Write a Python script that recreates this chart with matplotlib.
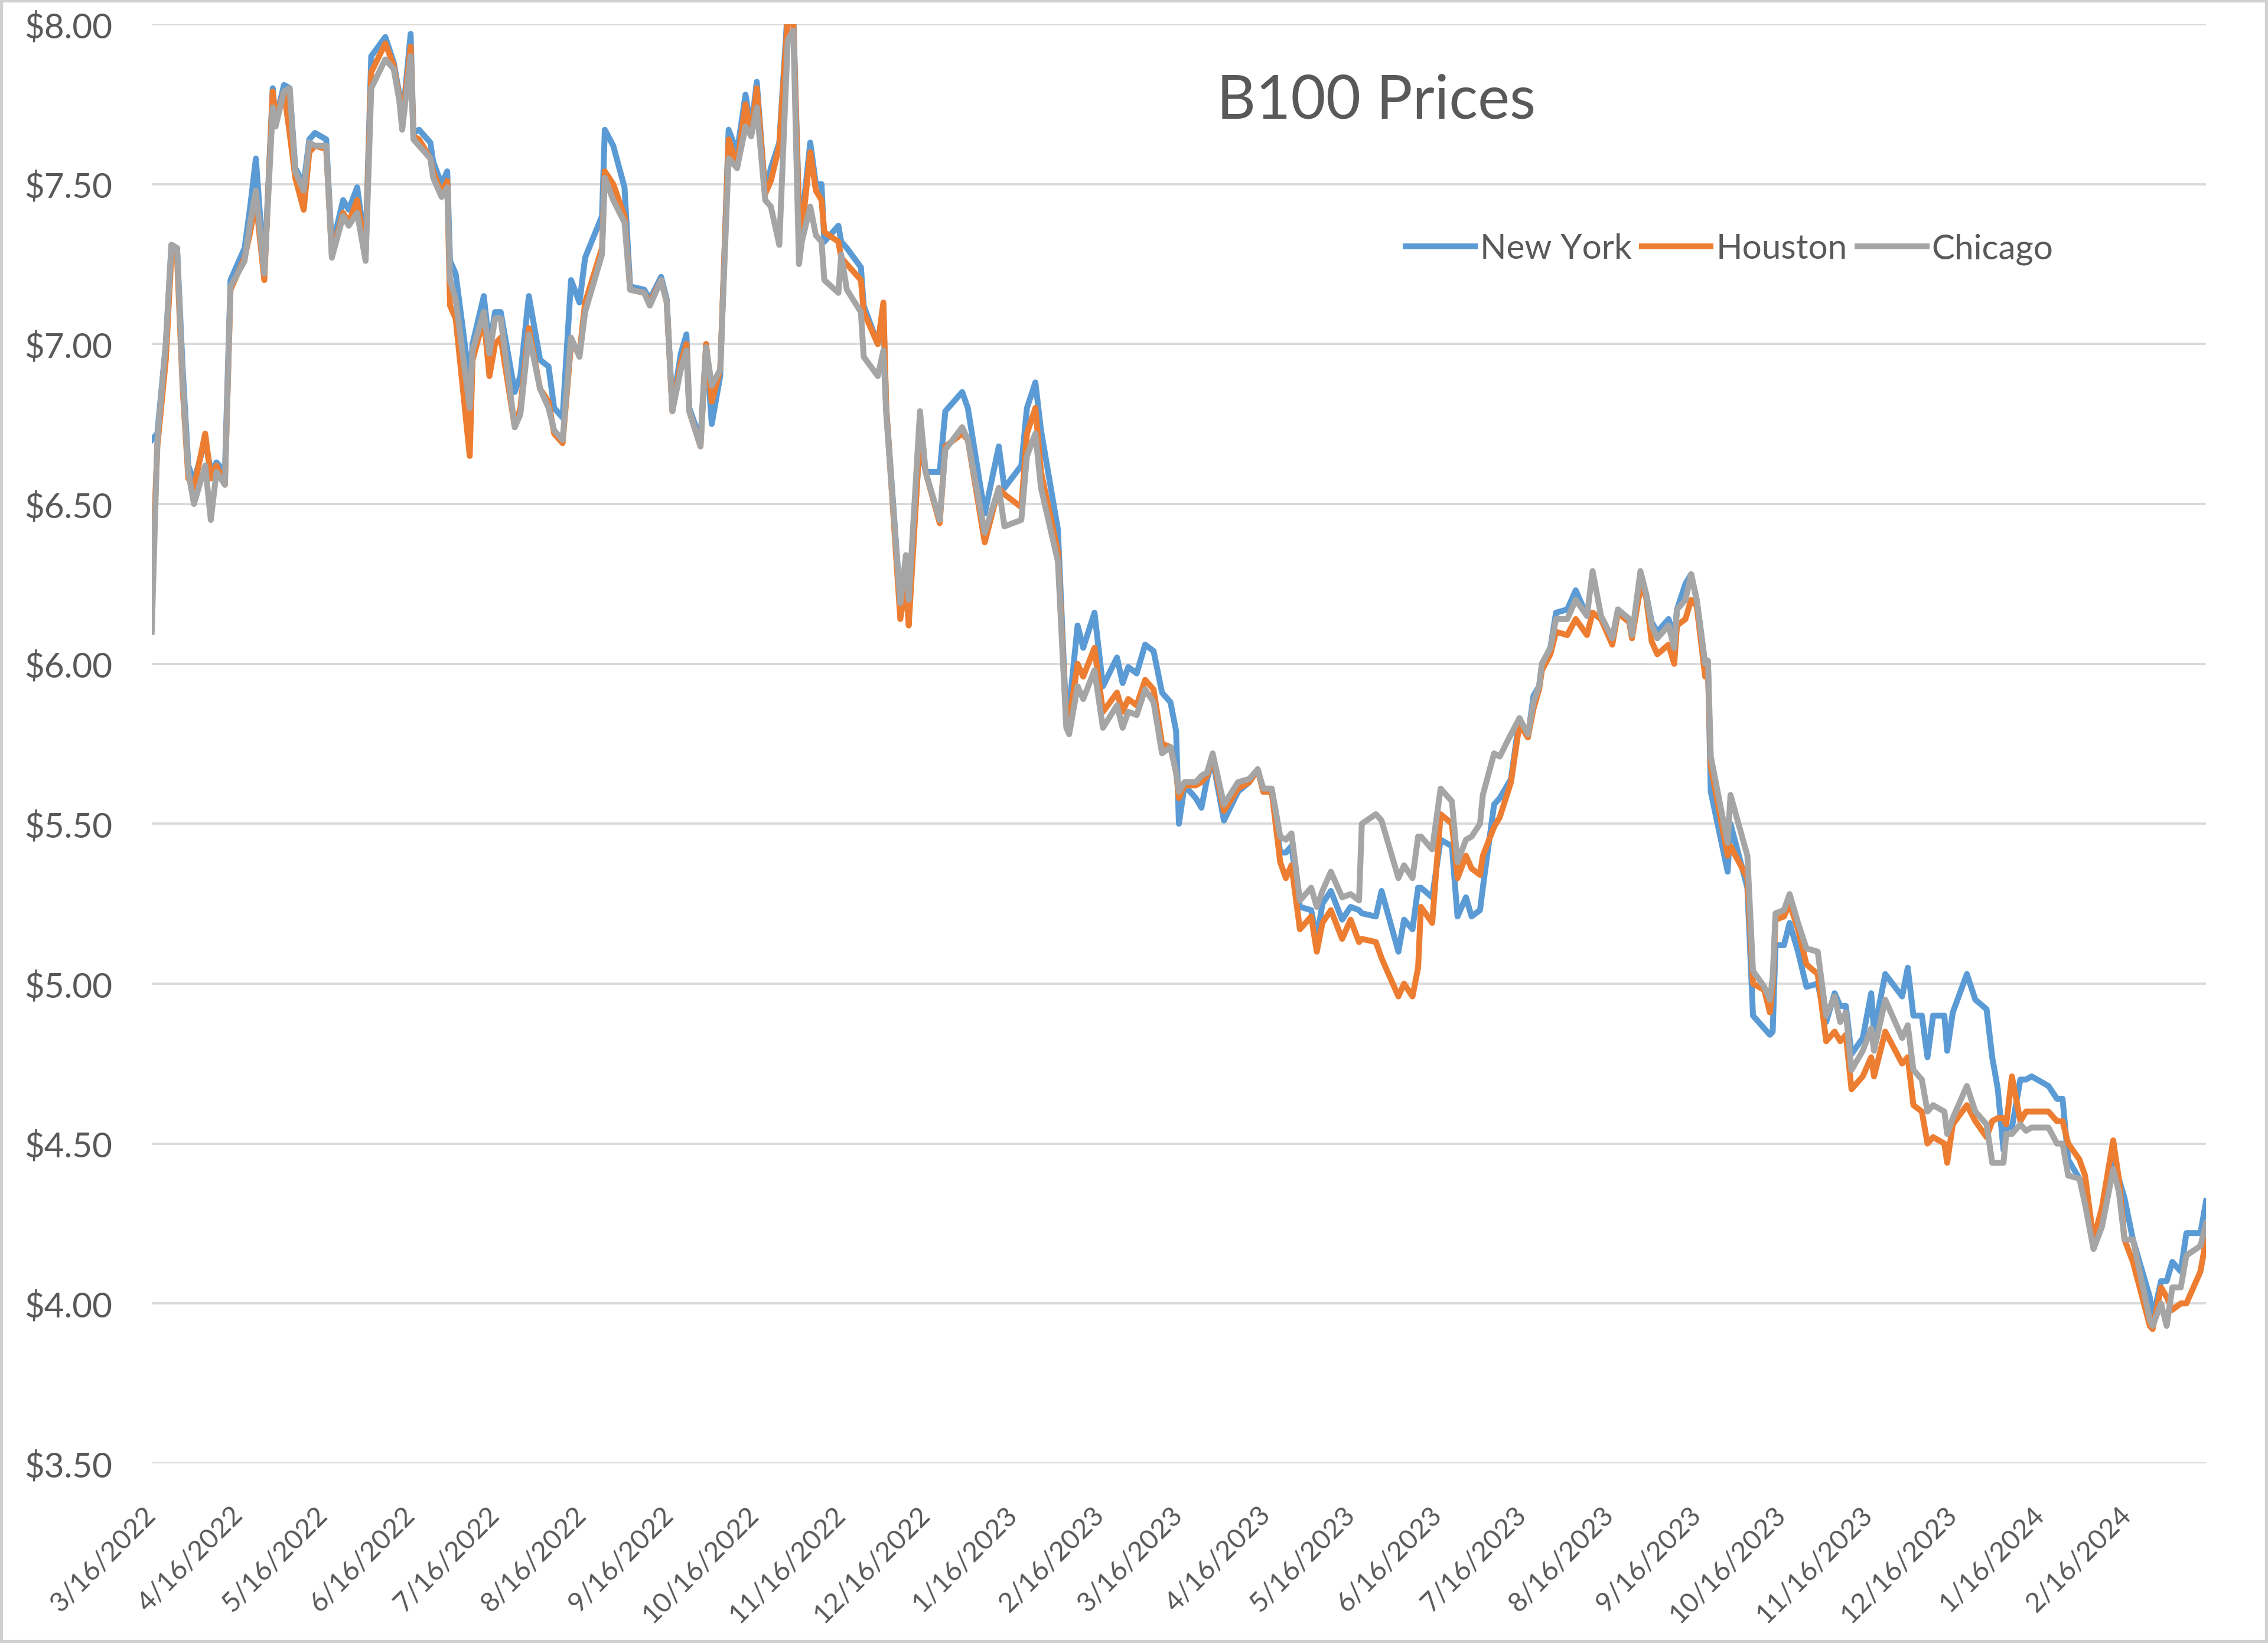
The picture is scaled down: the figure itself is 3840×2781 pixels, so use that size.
import pandas as pd
import matplotlib.pyplot as plt
import matplotlib.patches as mpatches

# --- data (days after 3/16/2022, price in $/gal) ---
start_date = '2022-03-16'
day_offset = [0, 2, 5, 7, 9, 11, 13, 15, 19, 21, 23, 26, 28, 33, 35, 37, 40, 43, 44, 47,
              49, 51, 54, 56, 58, 62, 64, 68, 70, 73, 76, 78, 83, 86, 88, 89, 92, 93, 95, 99,
              100, 103, 105, 106, 108, 113, 114, 118, 120, 122, 124, 129, 131, 134, 138, 141, 143, 146, 149, 152,
              154, 160, 161, 164, 168, 170, 175, 177, 181, 183, 185, 188, 190, 191, 195, 197, 199, 202, 205, 208,
              211, 213, 215, 218, 220, 223, 226, 228, 230, 231, 234, 236, 238, 239, 244, 245, 247, 252, 253, 258,
              260, 261, 266, 268, 269, 273, 275, 280, 282, 288, 290, 296, 301, 303, 309, 311, 314, 316, 322, 325,
              326, 329, 331, 335, 338, 343, 345, 347, 350, 353, 356, 359, 362, 364, 365, 367, 371, 373, 375, 377,
              381, 386, 390, 393, 395, 398, 401, 403, 405, 408, 412, 414, 416, 419, 423, 426, 429, 430, 435, 437,
              443, 445, 448, 450, 451, 455, 458, 462, 464, 467, 469, 472, 473, 477, 479, 483, 486, 489, 491, 493,
              494, 497, 499, 503, 506, 510, 512, 515, 519, 521, 525, 526, 529, 531, 533, 535, 539, 541, 542, 545,
              547, 549, 552, 553, 554, 560, 561, 567, 569, 573, 575, 576, 577, 580, 582, 585, 588, 592, 595, 598,
              600, 602, 604, 608, 611, 612, 616, 622, 624, 626, 629, 631, 633, 637, 638, 640, 645, 648, 652, 654,
              656, 658, 659, 661, 664, 666, 668, 674, 677, 679, 681, 685, 687, 690, 693, 697, 699, 701, 704, 710,
              711, 714, 716, 718, 721, 723, 728, 730]

new_york = [6.70, 6.72, 7.00, 7.31, 7.30, 6.92, 6.62, 6.57, 6.70, 6.60, 6.63, 6.60, 7.20, 7.30, 7.43, 7.58, 7.22, 7.80, 7.70, 7.81,
            7.80, 7.55, 7.50, 7.64, 7.66, 7.64, 7.30, 7.45, 7.42, 7.49, 7.30, 7.90, 7.96, 7.88, 7.78, 7.69, 7.97, 7.66, 7.67, 7.63,
            7.57, 7.50, 7.54, 7.26, 7.22, 6.88, 7.00, 7.15, 6.99, 7.10, 7.10, 6.85, 6.90, 7.15, 6.95, 6.93, 6.80, 6.77, 7.20, 7.13,
            7.27, 7.40, 7.67, 7.62, 7.49, 7.18, 7.17, 7.14, 7.21, 7.14, 6.80, 6.97, 7.03, 6.80, 6.70, 7.00, 6.75, 6.90, 7.67, 7.60,
            7.78, 7.67, 7.82, 7.47, 7.55, 7.63, 8.05, 8.02, 7.42, 7.38, 7.63, 7.50, 7.50, 7.32, 7.37, 7.32, 7.30, 7.24, 7.12, 7.00,
            7.10, 6.80, 6.19, 6.30, 6.19, 6.70, 6.60, 6.60, 6.79, 6.85, 6.80, 6.47, 6.68, 6.55, 6.62, 6.80, 6.88, 6.73, 6.42, 5.82,
            5.86, 6.12, 6.05, 6.16, 5.93, 6.02, 5.94, 5.99, 5.97, 6.06, 6.04, 5.91, 5.88, 5.79, 5.50, 5.62, 5.58, 5.55, 5.64, 5.70,
            5.51, 5.60, 5.63, 5.67, 5.60, 5.60, 5.41, 5.41, 5.43, 5.24, 5.23, 5.14, 5.25, 5.29, 5.20, 5.24, 5.23, 5.22, 5.21, 5.29,
            5.10, 5.20, 5.17, 5.30, 5.30, 5.27, 5.45, 5.43, 5.21, 5.27, 5.21, 5.23, 5.30, 5.56, 5.58, 5.64, 5.83, 5.77, 5.90, 5.93,
            6.00, 6.05, 6.16, 6.17, 6.23, 6.15, 6.16, 6.14, 6.07, 6.17, 6.14, 6.09, 6.24, 6.22, 6.13, 6.10, 6.14, 6.08, 6.17, 6.25,
            6.28, 6.20, 6.00, 6.00, 5.60, 5.35, 5.50, 5.30, 4.90, 4.86, 4.84, 4.85, 5.12, 5.12, 5.19, 5.10, 4.99, 5.00, 4.88, 4.97,
            4.93, 4.93, 4.78, 4.83, 4.97, 4.85, 5.03, 4.96, 5.05, 4.90, 4.90, 4.77, 4.90, 4.90, 4.79, 4.91, 5.03, 4.95, 4.92, 4.77,
            4.67, 4.48, 4.55, 4.55, 4.70, 4.70, 4.71, 4.68, 4.64, 4.64, 4.45, 4.39, 4.35, 4.20, 4.25, 4.45, 4.39, 4.33, 4.20, 4.02,
            3.95, 4.07, 4.07, 4.13, 4.10, 4.22, 4.22, 4.32]

houston = [6.25, 6.68, 6.95, 7.28, 7.27, 6.86, 6.58, 6.55, 6.72, 6.58, 6.62, 6.56, 7.17, 7.27, 7.35, 7.45, 7.20, 7.79, 7.70, 7.79,
           7.66, 7.52, 7.42, 7.60, 7.62, 7.61, 7.28, 7.41, 7.38, 7.45, 7.28, 7.85, 7.94, 7.87, 7.77, 7.69, 7.93, 7.65, 7.64, 7.58,
           7.54, 7.47, 7.51, 7.12, 7.08, 6.65, 6.95, 7.08, 6.90, 7.00, 7.02, 6.74, 6.80, 7.05, 6.86, 6.82, 6.72, 6.69, 7.00, 6.97,
           7.13, 7.30, 7.54, 7.50, 7.40, 7.17, 7.16, 7.13, 7.20, 7.13, 6.79, 6.94, 7.00, 6.79, 6.68, 7.00, 6.82, 6.92, 7.64, 7.56,
           7.75, 7.65, 7.80, 7.47, 7.51, 7.62, 8.02, 8.00, 7.40, 7.35, 7.60, 7.48, 7.45, 7.35, 7.32, 7.27, 7.25, 7.20, 7.10, 7.00,
           7.13, 6.80, 6.14, 6.25, 6.12, 6.72, 6.60, 6.44, 6.68, 6.72, 6.70, 6.38, 6.55, 6.53, 6.49, 6.72, 6.80, 6.60, 6.35, 5.81,
           5.82, 6.00, 5.96, 6.05, 5.85, 5.91, 5.85, 5.89, 5.87, 5.95, 5.92, 5.75, 5.74, 5.66, 5.58, 5.62, 5.62, 5.63, 5.65, 5.71,
           5.54, 5.61, 5.63, 5.67, 5.60, 5.60, 5.38, 5.33, 5.37, 5.17, 5.21, 5.10, 5.19, 5.23, 5.14, 5.20, 5.13, 5.14, 5.13, 5.08,
           4.96, 5.00, 4.96, 5.05, 5.24, 5.19, 5.53, 5.50, 5.33, 5.40, 5.36, 5.34, 5.40, 5.49, 5.52, 5.63, 5.81, 5.77, 5.86, 5.92,
           5.98, 6.03, 6.10, 6.09, 6.14, 6.09, 6.16, 6.14, 6.06, 6.16, 6.13, 6.08, 6.24, 6.21, 6.07, 6.03, 6.06, 6.00, 6.12, 6.14,
           6.20, 6.18, 5.96, 5.98, 5.68, 5.40, 5.43, 5.33, 5.00, 4.98, 4.91, 4.99, 5.20, 5.21, 5.25, 5.17, 5.06, 5.03, 4.82, 4.85,
           4.82, 4.84, 4.67, 4.71, 4.77, 4.71, 4.85, 4.75, 4.77, 4.62, 4.60, 4.50, 4.52, 4.50, 4.44, 4.56, 4.62, 4.57, 4.52, 4.57,
           4.58, 4.58, 4.56, 4.71, 4.57, 4.60, 4.60, 4.60, 4.57, 4.57, 4.50, 4.45, 4.40, 4.20, 4.30, 4.51, 4.39, 4.20, 4.13, 3.93,
           3.92, 4.05, 4.02, 3.98, 4.00, 4.00, 4.10, 4.20]

chicago = [6.10, 6.70, 7.00, 7.31, 7.30, 6.88, 6.60, 6.50, 6.62, 6.45, 6.60, 6.56, 7.18, 7.26, 7.38, 7.48, 7.22, 7.74, 7.68, 7.79,
           7.80, 7.54, 7.48, 7.63, 7.62, 7.62, 7.27, 7.40, 7.37, 7.41, 7.26, 7.80, 7.89, 7.86, 7.76, 7.67, 7.90, 7.64, 7.62, 7.58,
           7.52, 7.46, 7.49, 7.20, 7.14, 6.80, 6.98, 7.10, 6.97, 7.08, 7.08, 6.74, 6.78, 7.03, 6.86, 6.80, 6.73, 6.70, 7.02, 6.96,
           7.10, 7.28, 7.52, 7.45, 7.38, 7.17, 7.16, 7.12, 7.20, 7.13, 6.79, 6.92, 6.98, 6.79, 6.68, 6.99, 6.87, 6.92, 7.58, 7.55,
           7.68, 7.65, 7.74, 7.45, 7.43, 7.31, 7.95, 7.98, 7.25, 7.32, 7.43, 7.34, 7.32, 7.20, 7.16, 7.28, 7.17, 7.10, 6.96, 6.90,
           6.98, 6.78, 6.19, 6.34, 6.20, 6.79, 6.60, 6.45, 6.67, 6.74, 6.70, 6.41, 6.55, 6.43, 6.45, 6.65, 6.72, 6.55, 6.32, 5.80,
           5.78, 5.93, 5.89, 5.98, 5.80, 5.87, 5.80, 5.85, 5.84, 5.92, 5.88, 5.72, 5.74, 5.66, 5.60, 5.63, 5.63, 5.65, 5.66, 5.72,
           5.56, 5.63, 5.64, 5.67, 5.61, 5.61, 5.46, 5.45, 5.47, 5.26, 5.30, 5.24, 5.29, 5.35, 5.27, 5.28, 5.26, 5.50, 5.53, 5.51,
           5.33, 5.37, 5.33, 5.46, 5.46, 5.42, 5.61, 5.57, 5.38, 5.45, 5.46, 5.50, 5.59, 5.72, 5.71, 5.78, 5.83, 5.78, 5.88, 5.93,
           6.00, 6.05, 6.14, 6.14, 6.20, 6.15, 6.29, 6.15, 6.08, 6.17, 6.14, 6.09, 6.29, 6.22, 6.12, 6.08, 6.12, 6.05, 6.17, 6.20,
           6.28, 6.20, 6.00, 6.01, 5.71, 5.44, 5.59, 5.40, 5.04, 4.99, 4.95, 5.02, 5.22, 5.23, 5.28, 5.19, 5.11, 5.10, 4.90, 4.96,
           4.88, 4.91, 4.73, 4.79, 4.86, 4.79, 4.95, 4.83, 4.87, 4.73, 4.70, 4.60, 4.62, 4.60, 4.53, 4.58, 4.68, 4.60, 4.56, 4.44,
           4.44, 4.44, 4.53, 4.53, 4.56, 4.54, 4.55, 4.55, 4.50, 4.50, 4.40, 4.39, 4.31, 4.17, 4.24, 4.42, 4.35, 4.20, 4.20, 3.95,
           3.93, 4.00, 3.93, 4.05, 4.05, 4.15, 4.18, 4.25]

series_names = ['New York', 'Houston', 'Chicago']
series_colors = ['#5B9BD5', '#ED7D31', '#A5A5A5']

plt.rcParams['font.family'] = ['Lato', 'DejaVu Sans']
text_color = '#595959'

dates = pd.Timestamp(start_date) + pd.to_timedelta(day_offset, unit='D')

fig = plt.figure(figsize=(12.8, 9.2733), dpi=300)
ax = fig.add_axes([0.0669, 0.1093, 0.9058, 0.8756])

for name, vals, col in zip(series_names, [new_york, houston, chicago], series_colors):
    ax.plot(dates, vals, color=col, linewidth=2.4, label=name, solid_joinstyle='round')

ax.set_xlim(dates[0], dates[-1])
ax.set_ylim(3.5, 8.0)
ax.set_yticks([3.5 + 0.5 * i for i in range(10)])
ax.set_yticklabels([f'${3.5 + 0.5 * i:.2f}' for i in range(10)])
ax.grid(axis='y', color='#D9D9D9', linewidth=0.9)
ax.set_axisbelow(True)
for s in ax.spines.values():
    s.set_visible(False)

# monthly ticks on the 16th
tick_dates = pd.date_range('2022-03-01', periods=24, freq='MS') + pd.Timedelta(days=15)
ax.set_xticks(tick_dates)
ax.set_xticklabels([f'{d.month}/{d.day}/{d.year}' for d in tick_dates],
                   rotation=45, ha='right', va='center', rotation_mode='anchor')
ax.tick_params(axis='x', length=0, pad=19, labelsize=11.2, labelcolor=text_color)
ax.tick_params(axis='y', length=0, pad=16, labelsize=14, labelcolor=text_color)

ax.text(0.596, 0.947, 'B100 Prices', transform=ax.transAxes, ha='center', va='center',
        fontsize=24.5, color=text_color)

ax.legend(loc='center', bbox_to_anchor=(0.768, 0.844), ncol=3, frameon=False,
          fontsize=14, labelcolor=text_color, handlelength=2.0, handletextpad=0.15,
          columnspacing=0.3)

# light chart border
fig.add_artist(mpatches.Rectangle((0, 0), 1, 1, transform=fig.transFigure, fill=False,
                                  edgecolor='#D0D0D0', linewidth=2.5))

fig.savefig('out.png', dpi=300, facecolor='white')
